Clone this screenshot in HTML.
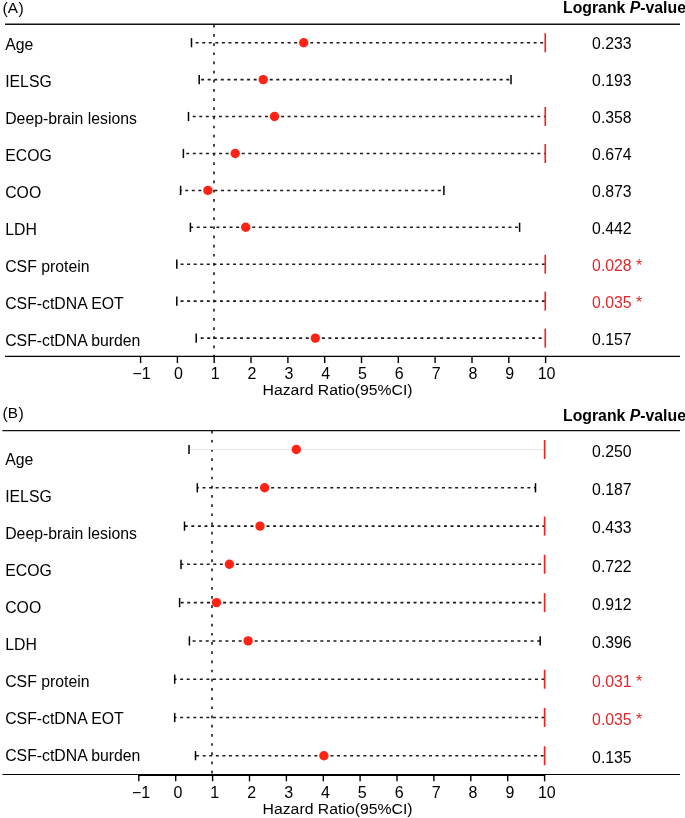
<!DOCTYPE html>
<html><head><meta charset="utf-8"><style>
html,body{margin:0;padding:0;background:#fff;width:685px;height:818px;overflow:hidden}
svg{display:block;will-change:transform}
text{font-family:"Liberation Sans",sans-serif;fill:#000}
.t16{font-size:15.8px}
.tk{font-size:16px}
.hz{font-size:15.3px}
.hdr{font-size:15.8px;font-weight:bold}
</style></head><body>
<svg width="685" height="818" viewBox="0 0 685 818">
<rect width="685" height="818" fill="#fff"/>
<text x="2.5" y="13.8" class="t16">(<tspan style="font-size:15.3px" dy="-0.9">A</tspan><tspan dx="0.5" dy="0.9">)</tspan></text>
<text x="563.0" y="12.9" class="hdr">Logrank <tspan font-style="italic">P</tspan>-value</text>
<line x1="5" y1="24.3" x2="680" y2="24.3" stroke="#111" stroke-width="1.4"/>
<line x1="214.0" y1="24.9" x2="214.0" y2="356.3" stroke="#1a1a1a" stroke-width="1.6" stroke-dasharray="2.7 6.46"/>
<text x="5.2" y="49.6" class="t16">Age</text>
<text x="592.1" y="49.1" class="t16" style="fill:#000" xml:space="preserve">0.233</text>
<line x1="191.50" y1="42.7" x2="303.70" y2="42.7" stroke="#1a1a1a" stroke-width="1.55" stroke-dasharray="2.95 3.62" stroke-dashoffset="2.44"/>
<line x1="303.70" y1="42.7" x2="545.60" y2="42.7" stroke="#1a1a1a" stroke-width="1.55" stroke-dasharray="2.95 3.62"/>
<line x1="191.5" y1="38.1" x2="191.5" y2="47.3" stroke="#000" stroke-width="1.5"/>
<line x1="545.25" y1="33.2" x2="545.25" y2="52.2" stroke="#ff1a1a" stroke-width="1.6"/>
<circle cx="303.7" cy="42.7" r="4.7" fill="#ff2315"/>
<text x="5.2" y="86.6" class="t16">IELSG</text>
<text x="592.1" y="86.1" class="t16" style="fill:#000" xml:space="preserve">0.193</text>
<line x1="199.20" y1="79.6" x2="263.20" y2="79.6" stroke="#1a1a1a" stroke-width="1.55" stroke-dasharray="2.95 3.62" stroke-dashoffset="4.65"/>
<line x1="263.20" y1="79.6" x2="511.00" y2="79.6" stroke="#1a1a1a" stroke-width="1.55" stroke-dasharray="2.95 3.62"/>
<line x1="199.2" y1="75.0" x2="199.2" y2="84.2" stroke="#000" stroke-width="1.5"/>
<line x1="511.0" y1="75.0" x2="511.0" y2="84.2" stroke="#000" stroke-width="1.5"/>
<circle cx="263.2" cy="79.6" r="4.7" fill="#ff2315"/>
<text x="5.2" y="123.6" class="t16">Deep-brain lesions</text>
<text x="592.1" y="123.0" class="t16" style="fill:#000" xml:space="preserve">0.358</text>
<line x1="188.50" y1="116.5" x2="274.50" y2="116.5" stroke="#1a1a1a" stroke-width="1.55" stroke-dasharray="2.95 3.62" stroke-dashoffset="2.36"/>
<line x1="274.50" y1="116.5" x2="545.60" y2="116.5" stroke="#1a1a1a" stroke-width="1.55" stroke-dasharray="2.95 3.62"/>
<line x1="188.5" y1="111.9" x2="188.5" y2="121.1" stroke="#000" stroke-width="1.5"/>
<line x1="545.25" y1="107.0" x2="545.25" y2="126.0" stroke="#ff1a1a" stroke-width="1.6"/>
<circle cx="274.5" cy="116.5" r="4.7" fill="#ff2315"/>
<text x="5.2" y="160.6" class="t16">ECOG</text>
<text x="592.1" y="160.0" class="t16" style="fill:#000" xml:space="preserve">0.674</text>
<line x1="183.40" y1="153.5" x2="235.20" y2="153.5" stroke="#1a1a1a" stroke-width="1.55" stroke-dasharray="2.95 3.62" stroke-dashoffset="3.71"/>
<line x1="235.20" y1="153.5" x2="545.60" y2="153.5" stroke="#1a1a1a" stroke-width="1.55" stroke-dasharray="2.95 3.62"/>
<line x1="183.4" y1="148.9" x2="183.4" y2="158.1" stroke="#000" stroke-width="1.5"/>
<line x1="545.25" y1="144.0" x2="545.25" y2="163.0" stroke="#ff1a1a" stroke-width="1.6"/>
<circle cx="235.2" cy="153.5" r="4.7" fill="#ff2315"/>
<text x="5.2" y="197.6" class="t16">COO</text>
<text x="592.1" y="196.9" class="t16" style="fill:#000" xml:space="preserve">0.873</text>
<line x1="180.60" y1="190.4" x2="207.90" y2="190.4" stroke="#1a1a1a" stroke-width="1.55" stroke-dasharray="2.95 3.62" stroke-dashoffset="1.93"/>
<line x1="207.90" y1="190.4" x2="443.90" y2="190.4" stroke="#1a1a1a" stroke-width="1.55" stroke-dasharray="2.95 3.62"/>
<line x1="180.6" y1="185.8" x2="180.6" y2="195.0" stroke="#000" stroke-width="1.5"/>
<line x1="443.9" y1="185.8" x2="443.9" y2="195.0" stroke="#000" stroke-width="1.5"/>
<circle cx="207.9" cy="190.4" r="4.7" fill="#ff2315"/>
<text x="5.2" y="234.6" class="t16">LDH</text>
<text x="592.1" y="233.8" class="t16" style="fill:#000" xml:space="preserve">0.442</text>
<line x1="190.40" y1="227.3" x2="245.70" y2="227.3" stroke="#1a1a1a" stroke-width="1.55" stroke-dasharray="2.95 3.62" stroke-dashoffset="0.21"/>
<line x1="245.70" y1="227.3" x2="519.60" y2="227.3" stroke="#1a1a1a" stroke-width="1.55" stroke-dasharray="2.95 3.62"/>
<line x1="190.4" y1="222.7" x2="190.4" y2="231.9" stroke="#000" stroke-width="1.5"/>
<line x1="519.6" y1="222.7" x2="519.6" y2="231.9" stroke="#000" stroke-width="1.5"/>
<circle cx="245.7" cy="227.3" r="4.7" fill="#ff2315"/>
<text x="5.2" y="271.5" class="t16">CSF protein</text>
<text x="592.1" y="270.8" class="t16" style="fill:#e3262b" xml:space="preserve">0.028 *</text>
<line x1="176.80" y1="264.2" x2="203.20" y2="264.2" stroke="#1a1a1a" stroke-width="1.55" stroke-dasharray="2.95 3.62" stroke-dashoffset="2.83"/>
<line x1="203.20" y1="264.2" x2="545.60" y2="264.2" stroke="#1a1a1a" stroke-width="1.55" stroke-dasharray="2.95 3.62" stroke-dashoffset="2.95"/>
<line x1="176.8" y1="259.6" x2="176.8" y2="268.8" stroke="#000" stroke-width="1.5"/>
<line x1="545.25" y1="254.7" x2="545.25" y2="273.7" stroke="#ff1a1a" stroke-width="1.6"/>
<text x="5.2" y="308.5" class="t16">CSF-ctDNA EOT</text>
<text x="592.1" y="307.8" class="t16" style="fill:#e3262b" xml:space="preserve">0.035 *</text>
<line x1="176.80" y1="301.1" x2="203.20" y2="301.1" stroke="#1a1a1a" stroke-width="1.55" stroke-dasharray="2.95 3.62" stroke-dashoffset="2.83"/>
<line x1="203.20" y1="301.1" x2="545.60" y2="301.1" stroke="#1a1a1a" stroke-width="1.55" stroke-dasharray="2.95 3.62" stroke-dashoffset="2.95"/>
<line x1="176.8" y1="296.5" x2="176.8" y2="305.7" stroke="#000" stroke-width="1.5"/>
<line x1="545.25" y1="291.6" x2="545.25" y2="310.6" stroke="#ff1a1a" stroke-width="1.6"/>
<text x="5.2" y="345.5" class="t16">CSF-ctDNA burden</text>
<text x="592.1" y="344.7" class="t16" style="fill:#000" xml:space="preserve">0.157</text>
<line x1="196.20" y1="338.1" x2="315.30" y2="338.1" stroke="#1a1a1a" stroke-width="1.55" stroke-dasharray="2.95 3.62" stroke-dashoffset="2.11"/>
<line x1="315.30" y1="338.1" x2="545.60" y2="338.1" stroke="#1a1a1a" stroke-width="1.55" stroke-dasharray="2.95 3.62"/>
<line x1="196.2" y1="333.5" x2="196.2" y2="342.7" stroke="#000" stroke-width="1.5"/>
<line x1="545.25" y1="328.6" x2="545.25" y2="347.6" stroke="#ff1a1a" stroke-width="1.6"/>
<circle cx="315.3" cy="338.1" r="4.7" fill="#ff2315"/>
<line x1="5" y1="356.3" x2="680" y2="356.3" stroke="#000" stroke-width="1.35"/>
<line x1="140.6" y1="356.3" x2="140.6" y2="363.1" stroke="#000" stroke-width="1.4"/>
<text x="141.6" y="379.4" class="tk" text-anchor="middle">−1</text>
<line x1="177.4" y1="356.3" x2="177.4" y2="363.1" stroke="#000" stroke-width="1.4"/>
<text x="178.4" y="379.4" class="tk" text-anchor="middle">0</text>
<line x1="214.2" y1="356.3" x2="214.2" y2="363.1" stroke="#000" stroke-width="1.4"/>
<text x="215.2" y="379.4" class="tk" text-anchor="middle">1</text>
<line x1="251.0" y1="356.3" x2="251.0" y2="363.1" stroke="#000" stroke-width="1.4"/>
<text x="252.0" y="379.4" class="tk" text-anchor="middle">2</text>
<line x1="287.9" y1="356.3" x2="287.9" y2="363.1" stroke="#000" stroke-width="1.4"/>
<text x="288.9" y="379.4" class="tk" text-anchor="middle">3</text>
<line x1="324.7" y1="356.3" x2="324.7" y2="363.1" stroke="#000" stroke-width="1.4"/>
<text x="325.7" y="379.4" class="tk" text-anchor="middle">4</text>
<line x1="361.5" y1="356.3" x2="361.5" y2="363.1" stroke="#000" stroke-width="1.4"/>
<text x="362.5" y="379.4" class="tk" text-anchor="middle">5</text>
<line x1="398.3" y1="356.3" x2="398.3" y2="363.1" stroke="#000" stroke-width="1.4"/>
<text x="399.3" y="379.4" class="tk" text-anchor="middle">6</text>
<line x1="435.1" y1="356.3" x2="435.1" y2="363.1" stroke="#000" stroke-width="1.4"/>
<text x="436.1" y="379.4" class="tk" text-anchor="middle">7</text>
<line x1="472.0" y1="356.3" x2="472.0" y2="363.1" stroke="#000" stroke-width="1.4"/>
<text x="473.0" y="379.4" class="tk" text-anchor="middle">8</text>
<line x1="508.8" y1="356.3" x2="508.8" y2="363.1" stroke="#000" stroke-width="1.4"/>
<text x="509.8" y="379.4" class="tk" text-anchor="middle">9</text>
<line x1="545.6" y1="356.3" x2="545.6" y2="363.1" stroke="#000" stroke-width="1.4"/>
<text x="546.6" y="379.4" class="tk" text-anchor="middle">10</text>
<text transform="translate(262.5,394.7) scale(1.033,1)" class="hz">Hazard Ratio(95%CI)</text>
<text x="2.5" y="418.7" class="t16">(<tspan style="font-size:15.3px" dy="-0.9">B</tspan><tspan dx="0.5" dy="0.9">)</tspan></text>
<text x="563.0" y="420.9" class="hdr">Logrank <tspan font-style="italic">P</tspan>-value</text>
<line x1="2.4" y1="430.6" x2="680" y2="430.6" stroke="#111" stroke-width="1.4"/>
<line x1="212.0" y1="430.7" x2="212.0" y2="774.5" stroke="#1a1a1a" stroke-width="1.6" stroke-dasharray="2.7 6.49"/>
<text x="5.2" y="465.2" class="t16">Age</text>
<text x="592.1" y="456.5" class="t16" style="fill:#000" xml:space="preserve">0.250</text>
<line x1="189.0" y1="449.5" x2="544.5999999999999" y2="449.5" stroke="#e6e6e6" stroke-width="1.1"/>
<line x1="189.0" y1="444.9" x2="189.0" y2="454.1" stroke="#000" stroke-width="1.5"/>
<line x1="544.60" y1="440.0" x2="544.60" y2="459.0" stroke="#ff1a1a" stroke-width="1.6"/>
<circle cx="296.3" cy="449.5" r="4.7" fill="#ff2315"/>
<text x="5.2" y="502.1" class="t16">IELSG</text>
<text x="592.1" y="494.8" class="t16" style="fill:#000" xml:space="preserve">0.187</text>
<line x1="197.30" y1="487.8" x2="264.60" y2="487.8" stroke="#1a1a1a" stroke-width="1.55" stroke-dasharray="2.95 3.62" stroke-dashoffset="1.35"/>
<line x1="264.60" y1="487.8" x2="535.50" y2="487.8" stroke="#1a1a1a" stroke-width="1.55" stroke-dasharray="2.95 3.62"/>
<line x1="197.3" y1="483.2" x2="197.3" y2="492.4" stroke="#000" stroke-width="1.5"/>
<line x1="535.5" y1="483.2" x2="535.5" y2="492.4" stroke="#000" stroke-width="1.5"/>
<circle cx="264.6" cy="487.8" r="4.7" fill="#ff2315"/>
<text x="5.2" y="539.1" class="t16">Deep-brain lesions</text>
<text x="592.1" y="533.2" class="t16" style="fill:#000" xml:space="preserve">0.433</text>
<line x1="184.50" y1="526.1" x2="260.00" y2="526.1" stroke="#1a1a1a" stroke-width="1.55" stroke-dasharray="2.95 3.62" stroke-dashoffset="6.29"/>
<line x1="260.00" y1="526.1" x2="544.60" y2="526.1" stroke="#1a1a1a" stroke-width="1.55" stroke-dasharray="2.95 3.62"/>
<line x1="184.5" y1="521.5" x2="184.5" y2="530.7" stroke="#000" stroke-width="1.5"/>
<line x1="544.60" y1="516.6" x2="544.60" y2="535.6" stroke="#ff1a1a" stroke-width="1.6"/>
<circle cx="260.0" cy="526.1" r="4.7" fill="#ff2315"/>
<text x="5.2" y="576.0" class="t16">ECOG</text>
<text x="592.1" y="571.5" class="t16" style="fill:#000" xml:space="preserve">0.722</text>
<line x1="181.00" y1="564.3" x2="229.40" y2="564.3" stroke="#1a1a1a" stroke-width="1.55" stroke-dasharray="2.95 3.62" stroke-dashoffset="0.54"/>
<line x1="229.40" y1="564.3" x2="544.60" y2="564.3" stroke="#1a1a1a" stroke-width="1.55" stroke-dasharray="2.95 3.62"/>
<line x1="181.0" y1="559.7" x2="181.0" y2="568.9" stroke="#000" stroke-width="1.5"/>
<line x1="544.60" y1="554.8" x2="544.60" y2="573.8" stroke="#ff1a1a" stroke-width="1.6"/>
<circle cx="229.4" cy="564.3" r="4.7" fill="#ff2315"/>
<text x="5.2" y="613.0" class="t16">COO</text>
<text x="592.1" y="609.9" class="t16" style="fill:#000" xml:space="preserve">0.912</text>
<line x1="179.60" y1="602.6" x2="216.50" y2="602.6" stroke="#1a1a1a" stroke-width="1.55" stroke-dasharray="2.95 3.62" stroke-dashoffset="5.47"/>
<line x1="216.50" y1="602.6" x2="544.60" y2="602.6" stroke="#1a1a1a" stroke-width="1.55" stroke-dasharray="2.95 3.62"/>
<line x1="179.6" y1="598.0" x2="179.6" y2="607.2" stroke="#000" stroke-width="1.5"/>
<line x1="544.60" y1="593.1" x2="544.60" y2="612.1" stroke="#ff1a1a" stroke-width="1.6"/>
<circle cx="216.5" cy="602.6" r="4.7" fill="#ff2315"/>
<text x="5.2" y="650.0" class="t16">LDH</text>
<text x="592.1" y="648.2" class="t16" style="fill:#000" xml:space="preserve">0.396</text>
<line x1="189.40" y1="640.9" x2="248.10" y2="640.9" stroke="#1a1a1a" stroke-width="1.55" stroke-dasharray="2.95 3.62" stroke-dashoffset="3.38"/>
<line x1="248.10" y1="640.9" x2="540.20" y2="640.9" stroke="#1a1a1a" stroke-width="1.55" stroke-dasharray="2.95 3.62"/>
<line x1="189.4" y1="636.3" x2="189.4" y2="645.5" stroke="#000" stroke-width="1.5"/>
<line x1="540.2" y1="636.3" x2="540.2" y2="645.5" stroke="#000" stroke-width="1.5"/>
<circle cx="248.1" cy="640.9" r="4.7" fill="#ff2315"/>
<text x="5.2" y="686.9" class="t16">CSF protein</text>
<text x="592.1" y="686.5" class="t16" style="fill:#e3262b" xml:space="preserve">0.031 *</text>
<line x1="174.70" y1="679.2" x2="202.80" y2="679.2" stroke="#1a1a1a" stroke-width="1.55" stroke-dasharray="2.95 3.62" stroke-dashoffset="1.13"/>
<line x1="202.80" y1="679.2" x2="544.60" y2="679.2" stroke="#1a1a1a" stroke-width="1.55" stroke-dasharray="2.95 3.62" stroke-dashoffset="2.95"/>
<line x1="174.7" y1="674.6" x2="174.7" y2="683.8" stroke="#000" stroke-width="1.5"/>
<line x1="544.60" y1="669.7" x2="544.60" y2="688.7" stroke="#ff1a1a" stroke-width="1.6"/>
<text x="5.2" y="723.9" class="t16">CSF-ctDNA EOT</text>
<text x="592.1" y="724.9" class="t16" style="fill:#e3262b" xml:space="preserve">0.035 *</text>
<line x1="174.70" y1="717.5" x2="202.80" y2="717.5" stroke="#1a1a1a" stroke-width="1.55" stroke-dasharray="2.95 3.62" stroke-dashoffset="1.13"/>
<line x1="202.80" y1="717.5" x2="544.60" y2="717.5" stroke="#1a1a1a" stroke-width="1.55" stroke-dasharray="2.95 3.62" stroke-dashoffset="2.95"/>
<line x1="174.7" y1="712.9" x2="174.7" y2="722.1" stroke="#000" stroke-width="1.5"/>
<line x1="544.60" y1="708.0" x2="544.60" y2="727.0" stroke="#ff1a1a" stroke-width="1.6"/>
<text x="5.2" y="760.8" class="t16">CSF-ctDNA burden</text>
<text x="592.1" y="763.2" class="t16" style="fill:#000" xml:space="preserve">0.135</text>
<line x1="195.50" y1="755.7" x2="323.90" y2="755.7" stroke="#1a1a1a" stroke-width="1.55" stroke-dasharray="2.95 3.62" stroke-dashoffset="5.95"/>
<line x1="323.90" y1="755.7" x2="544.60" y2="755.7" stroke="#1a1a1a" stroke-width="1.55" stroke-dasharray="2.95 3.62"/>
<line x1="195.5" y1="751.1" x2="195.5" y2="760.3" stroke="#000" stroke-width="1.5"/>
<line x1="544.60" y1="746.2" x2="544.60" y2="765.2" stroke="#ff1a1a" stroke-width="1.6"/>
<circle cx="323.9" cy="755.7" r="4.7" fill="#ff2315"/>
<line x1="2.4" y1="774.5" x2="680" y2="774.5" stroke="#000" stroke-width="1.1"/>
<line x1="138.1" y1="774.9" x2="545.3" y2="774.9" stroke="#000" stroke-width="2.0"/>
<line x1="138.8" y1="774.5" x2="138.8" y2="781.3" stroke="#000" stroke-width="1.4"/>
<text x="141.0" y="798.4" class="tk" text-anchor="middle">−1</text>
<line x1="175.7" y1="774.5" x2="175.7" y2="781.3" stroke="#000" stroke-width="1.4"/>
<text x="177.9" y="798.4" class="tk" text-anchor="middle">0</text>
<line x1="212.6" y1="774.5" x2="212.6" y2="781.3" stroke="#000" stroke-width="1.4"/>
<text x="214.8" y="798.4" class="tk" text-anchor="middle">1</text>
<line x1="249.5" y1="774.5" x2="249.5" y2="781.3" stroke="#000" stroke-width="1.4"/>
<text x="251.7" y="798.4" class="tk" text-anchor="middle">2</text>
<line x1="286.4" y1="774.5" x2="286.4" y2="781.3" stroke="#000" stroke-width="1.4"/>
<text x="288.6" y="798.4" class="tk" text-anchor="middle">3</text>
<line x1="323.3" y1="774.5" x2="323.3" y2="781.3" stroke="#000" stroke-width="1.4"/>
<text x="325.5" y="798.4" class="tk" text-anchor="middle">4</text>
<line x1="360.1" y1="774.5" x2="360.1" y2="781.3" stroke="#000" stroke-width="1.4"/>
<text x="362.3" y="798.4" class="tk" text-anchor="middle">5</text>
<line x1="397.0" y1="774.5" x2="397.0" y2="781.3" stroke="#000" stroke-width="1.4"/>
<text x="399.2" y="798.4" class="tk" text-anchor="middle">6</text>
<line x1="433.9" y1="774.5" x2="433.9" y2="781.3" stroke="#000" stroke-width="1.4"/>
<text x="436.1" y="798.4" class="tk" text-anchor="middle">7</text>
<line x1="470.8" y1="774.5" x2="470.8" y2="781.3" stroke="#000" stroke-width="1.4"/>
<text x="473.0" y="798.4" class="tk" text-anchor="middle">8</text>
<line x1="507.7" y1="774.5" x2="507.7" y2="781.3" stroke="#000" stroke-width="1.4"/>
<text x="509.9" y="798.4" class="tk" text-anchor="middle">9</text>
<line x1="544.6" y1="774.5" x2="544.6" y2="781.3" stroke="#000" stroke-width="1.4"/>
<text x="546.8" y="798.4" class="tk" text-anchor="middle">10</text>
<text transform="translate(262.5,813.7) scale(1.033,1)" class="hz">Hazard Ratio(95%CI)</text>
</svg>
</body></html>
